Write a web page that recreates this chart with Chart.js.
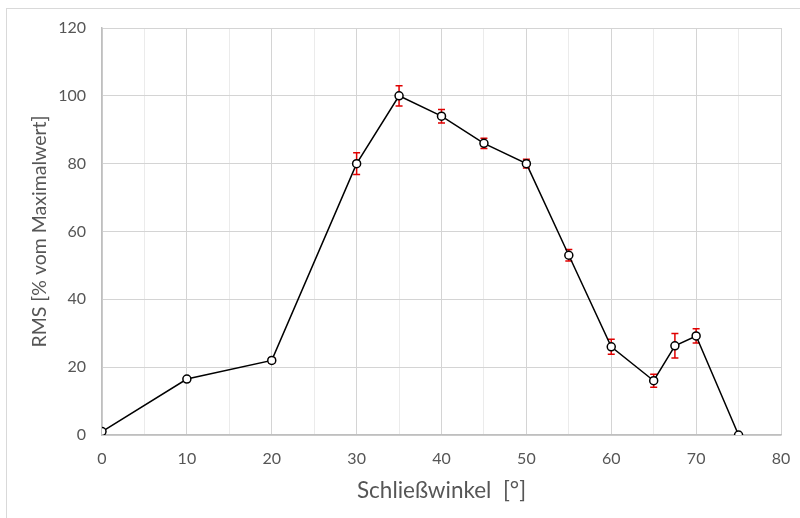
<!DOCTYPE html>
<html lang="de">
<head>
    <meta charset="UTF-8">
    <title>RMS über Schließwinkel</title>
    <script src="https://cdn.jsdelivr.net/npm/chart.js@4.4.1/dist/chart.umd.min.js"></script>
    <style>
        body { margin: 0; background: #fff; }
        canvas { display: block; }
    </style>
</head>
<body>
    <canvas id="myChart" width="800" height="518"></canvas>
    <script>
        // Werte
        const angles = [0, 10, 20, 30, 35, 40, 45, 50, 55, 60, 65, 67.5, 70, 75];
        const rms = [1, 16.5, 22, 80, 100, 94, 86, 80, 53, 26, 16, 26.3, 29.2, 0];
        const rmsError = [0, 0.3, 0.8, 3.2, 3.0, 2.0, 1.5, 1.3, 1.7, 2.2, 1.9, 3.6, 2.1, 0];
        const xTicks = [0, 10, 20, 30, 40, 50, 60, 70, 80];
        const yTicks = [0, 20, 40, 60, 80, 100, 120];

        const textColor = '#565656';
        const fontFamily = 'Lato, "Open Sans", sans-serif';

        // Rahmen um das ganze Diagramm
        const frame = {
            id: 'frame',
            beforeDraw(chart) {
                const ctx = chart.ctx;
                ctx.save();
                ctx.fillStyle = '#fff';
                ctx.fillRect(0, 0, chart.width, chart.height);
                ctx.strokeStyle = '#d9d9d9';
                ctx.lineWidth = 1;
                ctx.strokeRect(6.5, 8.5, 900, 900);
                ctx.restore();
            }
        };

        // Fehlerbalken (rot) unter den Punkten
        const errorBars = {
            id: 'errorBars',
            beforeDatasetsDraw(chart) {
                const ctx = chart.ctx;
                const xs = chart.scales.x;
                const ys = chart.scales.y;
                ctx.save();
                ctx.strokeStyle = '#e00000';
                ctx.lineWidth = 1.5;
                angles.forEach((a, i) => {
                    const e = rmsError[i];
                    if (!e) return;
                    const px = xs.getPixelForValue(a);
                    const top = ys.getPixelForValue(rms[i] + e);
                    const bot = ys.getPixelForValue(rms[i] - e);
                    ctx.beginPath();
                    ctx.moveTo(px, top);
                    ctx.lineTo(px, bot);
                    ctx.moveTo(px - 3.5, top);
                    ctx.lineTo(px + 3.5, top);
                    ctx.moveTo(px - 3.5, bot);
                    ctx.lineTo(px + 3.5, bot);
                    ctx.stroke();
                });
                ctx.restore();
            }
        };

        const ctx = document.getElementById('myChart').getContext('2d');
        new Chart(ctx, {
            type: 'scatter',
            data: {
                datasets: [{
                    label: 'RMS',
                    data: angles.map((a, i) => ({ x: a, y: rms[i] })),
                    showLine: true,
                    borderColor: '#000',
                    borderWidth: 1.5,
                    pointRadius: 4,
                    pointBorderWidth: 1.5,
                    pointBackgroundColor: '#fff',
                    pointBorderColor: '#000'
                }]
            },
            options: {
                responsive: false,
                animation: false,
                layout: { padding: { top: 28, right: 19, bottom: 0, left: 0 } },
                plugins: {
                    legend: { display: false },
                    tooltip: { enabled: false }
                },
                scales: {
                    x: {
                        type: 'linear',
                        min: 0,
                        max: 80,
                        afterBuildTicks: s => { s.ticks = [0, 5, 10, 15, 20, 25, 30, 35, 40, 45, 50, 55, 60, 65, 70, 75, 80].map(v => ({ value: v })); },
                        afterFit: s => { s.height = 518 - 435; s.paddingLeft = 0; s.paddingRight = 0; },
                        grid: {
                            color: c => (c.tick && c.tick.value % 10 === 0) ? '#d4d4d4' : '#ebebeb',
                            lineWidth: 1,
                            drawTicks: false
                        },
                        border: { color: '#bfbfbf', width: 1.5 },
                        ticks: {
                            color: textColor,
                            font: { family: fontFamily, size: 16 },
                            padding: 14,
                            maxRotation: 0,
                            autoSkip: false,
                            callback: v => xTicks.includes(v) ? String(v) : ''
                        },
                        title: {
                            display: true,
                            text: 'Schließwinkel  [°]',
                            color: textColor,
                            font: { family: fontFamily, size: 22.5 },
                            padding: { top: 0, bottom: 14 }
                        }
                    },
                    y: {
                        min: 0,
                        max: 120,
                        afterBuildTicks: s => { s.ticks = yTicks.map(v => ({ value: v })); },
                        afterFit: s => { s.width = 102; s.paddingTop = 0; s.paddingBottom = 0; },
                        grid: { color: '#d4d4d4', lineWidth: 1, drawTicks: false },
                        border: { color: '#bfbfbf', width: 1.5 },
                        ticks: {
                            color: textColor,
                            font: { family: fontFamily, size: 16 },
                            padding: 16
                        },
                        title: {
                            display: true,
                            text: 'RMS [% vom Maximalwert]',
                            color: textColor,
                            font: { family: fontFamily, size: 19.5 },
                            padding: { top: 28, bottom: 0 }
                        }
                    }
                }
            },
            plugins: [frame, errorBars]
        });
    </script>
</body>
</html>
